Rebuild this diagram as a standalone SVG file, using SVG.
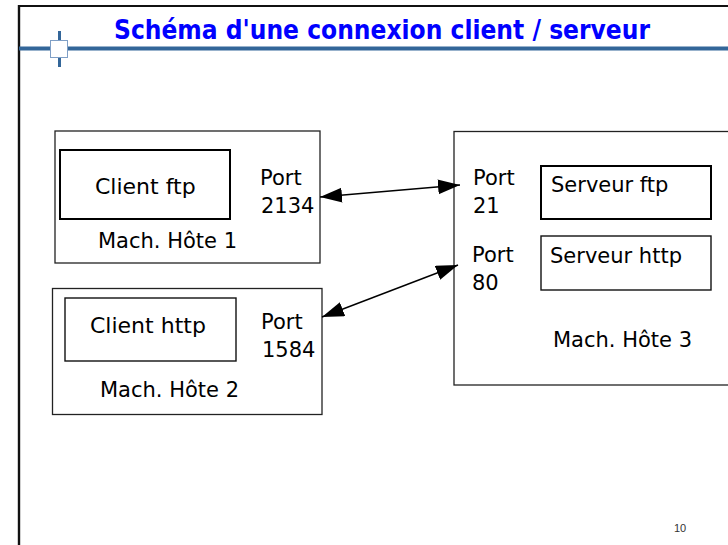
<svg xmlns="http://www.w3.org/2000/svg" width="728" height="545" viewBox="0 0 728 545">
  <style>
    .t { font-family: "DejaVu Sans", "Liberation Sans", sans-serif; font-size: 21px; fill: #000; }
    .tc { font-family: "DejaVu Sans", "Liberation Sans", sans-serif; font-size: 22px; fill: #000; }
    .box { fill: none; stroke: #222; stroke-width: 1.3; }
    .inner { fill: none; stroke: #000; stroke-width: 2; }
    .inner1 { fill: none; stroke: #111; stroke-width: 1.4; }
    .conn { stroke: #000; stroke-width: 1.4; fill: none; marker-start: url(#ah); marker-end: url(#ah); }
  </style>
  <defs>
    <marker id="ah" markerUnits="userSpaceOnUse" markerWidth="24" markerHeight="16" refX="22" refY="7.5" orient="auto-start-reverse">
      <path d="M0,0 L22,7.5 L0,15 z" fill="#000"/>
    </marker>
  </defs>
  <rect x="0" y="0" width="728" height="545" fill="#fff"/>

  <g id="frame">
    <line x1="19" y1="6" x2="728" y2="6" stroke="#111" stroke-width="2.2"/>
    <line x1="19" y1="5" x2="19" y2="545" stroke="#111" stroke-width="2.4"/>
    <line x1="19" y1="48.5" x2="728" y2="48.5" stroke="#336699" stroke-width="4"/>
    <line x1="59.5" y1="31" x2="59.5" y2="67" stroke="#336699" stroke-width="3"/>
    <rect x="50.5" y="40.5" width="17" height="17" fill="#fff" stroke="#7f9fc6" stroke-width="1"/>
  </g>

  <g id="title">
    <text x="114" y="39" font-family="DejaVu Sans Condensed, DejaVu Sans, sans-serif" font-weight="bold" font-size="26" fill="#0000ff" textLength="536" lengthAdjust="spacingAndGlyphs">Schéma d'une connexion client / serveur</text>
  </g>

  <g id="host1">
    <rect class="box" x="55" y="131" width="265" height="132"/>
    <rect class="inner" x="60" y="150" width="170" height="69"/>
    <text class="tc" x="95" y="194">Client ftp</text>
    <text class="t" x="260" y="185">Port</text>
    <text class="t" x="261" y="213">2134</text>
    <text class="t" x="98" y="248">Mach. Hôte 1</text>
  </g>

  <g id="host2">
    <rect class="box" x="52.5" y="288.5" width="269.5" height="126"/>
    <rect class="inner1" x="65" y="298" width="171" height="63"/>
    <text class="tc" x="90" y="333">Client http</text>
    <text class="t" x="261" y="329">Port</text>
    <text class="t" x="262" y="357">1584</text>
    <text class="t" x="100" y="397">Mach. Hôte 2</text>
  </g>

  <g id="host3">
    <rect class="box" x="454" y="131.5" width="300" height="253.5"/>
    <rect class="inner" x="541" y="166" width="170" height="53"/>
    <rect class="inner1" x="541" y="236" width="170" height="54"/>
    <text class="t" x="473" y="185">Port</text>
    <text class="t" x="473" y="213">21</text>
    <text class="t" x="472" y="262">Port</text>
    <text class="t" x="472" y="290">80</text>
    <text class="t" x="551" y="192">Serveur ftp</text>
    <text class="t" x="550" y="263">Serveur http</text>
    <text class="t" x="553" y="347">Mach. Hôte 3</text>
  </g>

  <g id="connectors">
    <line class="conn" x1="320" y1="197" x2="460" y2="185"/>
    <line class="conn" x1="322" y1="317" x2="458" y2="265"/>
  </g>

  <g id="page-number">
    <text x="674" y="532" font-family="Liberation Sans, Arial, sans-serif" font-size="11" fill="#333">10</text>
  </g>
</svg>
